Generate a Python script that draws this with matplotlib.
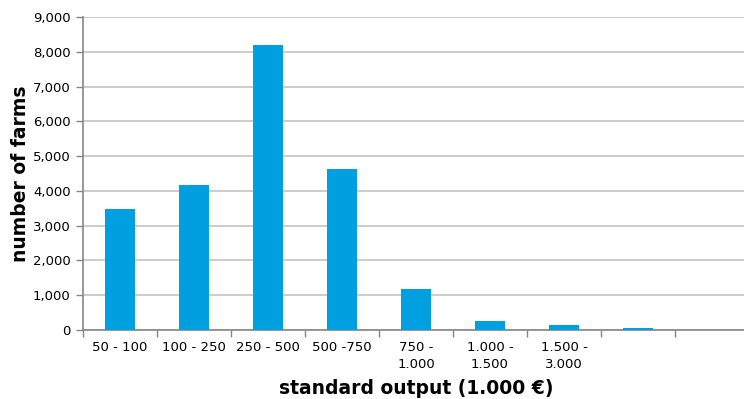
import matplotlib.pyplot as plt
from matplotlib.ticker import FuncFormatter

# farms by economic size class (standard output, 1.000 €)
size_classes = ['50 - 100', '100 - 250', '250 - 500', '500 -750',
                '750 -\n1.000', '1.000 -\n1.500', '1.500 -\n3.000', '', '']
farm_counts = [3470, 4170, 8190, 4620, 1170, 260, 150, 60, 10]

bar_color = '#009FE0'
grid_color = '#C4C4C4'
axis_color = '#868686'

plt.rcParams['font.family'] = ['DejaVu Sans']

fig = plt.figure(figsize=(7.44, 3.99), dpi=100)
ax = fig.add_axes([83 / 744, 1 - 330 / 399, 666 / 744, 313 / 399])

x = list(range(len(farm_counts)))
ax.bar(x, farm_counts, width=0.4, color=bar_color, zorder=3)

ax.set_xlim(-0.5, len(farm_counts) - 0.5)
ax.set_ylim(0, 9000)
ax.set_yticks(range(0, 9001, 1000))
ax.yaxis.set_major_formatter(FuncFormatter(lambda v, p: f'{int(v):,}'))
ax.grid(axis='y', color=grid_color, linewidth=1.2, zorder=0)

# category labels centred under the bars, tick marks on the class boundaries
ax.set_xticks(x)
ax.set_xticklabels(size_classes, fontsize=9.5, linespacing=1.35)
ax.tick_params(axis='x', length=0, pad=8)
ax.set_xticks([i - 0.5 for i in range(len(farm_counts) + 1)], minor=True)
ax.tick_params(axis='x', which='minor', length=5, color=axis_color, width=1)
ax.tick_params(axis='y', labelsize=9.5, length=5, color=axis_color, width=1, pad=4)

for side in ('top', 'right'):
    ax.spines[side].set_visible(False)
for side in ('left', 'bottom'):
    ax.spines[side].set_color(axis_color)
    ax.spines[side].set_linewidth(1.2)

ax.set_ylabel('number of farms', fontsize=13.5, fontweight='bold', labelpad=2)
ax.set_xlabel('standard output (1.000 €)', fontsize=13.5, fontweight='bold', labelpad=6)

fig.savefig('out.png', dpi=100)
